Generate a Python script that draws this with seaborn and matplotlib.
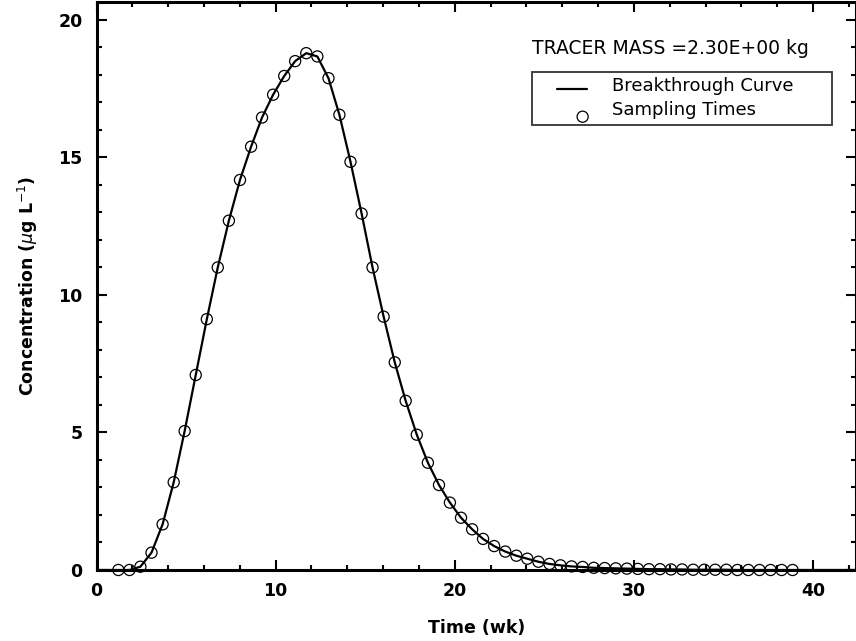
import numpy as np
import pandas as pd
import matplotlib
matplotlib.use("Agg")
import matplotlib.pyplot as plt
import seaborn as sns
from matplotlib.ticker import MultipleLocator
from matplotlib.legend_handler import HandlerLine2D, HandlerPathCollection

# ---- data ----
time_wk = [1.22, 1.84, 2.45, 3.07, 3.69, 4.31, 4.92, 5.54, 6.16, 6.77,
           7.39, 8.01, 8.63, 9.24, 9.86, 10.48, 11.09, 11.71, 12.33, 12.95,
           13.56, 14.18, 14.80, 15.41, 16.03, 16.65, 17.26, 17.88, 18.50, 19.12,
           19.73, 20.35, 20.97, 21.58, 22.20, 22.82, 23.44, 24.05, 24.67, 25.29,
           25.90, 26.52, 27.14, 27.76, 28.37, 28.99, 29.61, 30.22, 30.84, 31.46,
           32.07, 32.69, 33.31, 33.93, 34.54, 35.16, 35.78, 36.39, 37.01, 37.63,
           38.25, 38.86]
conc = [0.00, 0.00, 0.12, 0.63, 1.66, 3.19, 5.05, 7.09, 9.12, 11.00,
        12.70, 14.18, 15.39, 16.45, 17.28, 17.96, 18.50, 18.79, 18.67, 17.88,
        16.55, 14.84, 12.96, 11.00, 9.21, 7.55, 6.15, 4.92, 3.90, 3.09,
        2.45, 1.90, 1.48, 1.13, 0.87, 0.67, 0.52, 0.41, 0.30, 0.22,
        0.17, 0.13, 0.11, 0.08, 0.07, 0.06, 0.05, 0.04, 0.03, 0.03,
        0.02, 0.02, 0.01, 0.01, 0.01, 0.01, 0.00, 0.00, 0.00, 0.00,
        0.00, 0.00]
curve_start = [0.0]
curve_end = [42.4]
tracer_text = "TRACER MASS =2.30E+00 kg"
legend_labels = ["Breakthrough Curve", "Sampling Times"]

samples = pd.DataFrame({"time": time_wk, "conc": conc})
curve = pd.DataFrame({"time": curve_start + time_wk + curve_end,
                      "conc": [0.0] + conc + [0.0]})

sns.set_theme(style="ticks")
plt.rcParams["font.family"] = ["DejaVu Sans"]
plt.rcParams["mathtext.fontset"] = "dejavusans"
for k in ["text.color", "axes.labelcolor", "xtick.color", "ytick.color",
          "axes.edgecolor"]:
    plt.rcParams[k] = "black"

fig = plt.figure(figsize=(8.56, 6.41), dpi=100)
ax = fig.add_axes([96.5 / 856, 1 - 570 / 641, 1 - 96.5 / 856, (570 - 2) / 641])

sns.lineplot(data=curve, x="time", y="conc", ax=ax, color="black",
             linewidth=1.6, label=legend_labels[0], sort=False)
sns.scatterplot(data=samples, x="time", y="conc", ax=ax, marker="o",
                s=64, facecolor="none", edgecolor="black", linewidth=0.9,
                label=legend_labels[1], zorder=3, clip_on=False)

ax.set_xlim(0, 42.4)
ax.set_ylim(0, 20.65)
ax.xaxis.set_major_locator(MultipleLocator(10))
ax.xaxis.set_minor_locator(MultipleLocator(2))
ax.yaxis.set_major_locator(MultipleLocator(5))
ax.yaxis.set_minor_locator(MultipleLocator(1))
ax.tick_params(which="both", direction="in", top=True, right=True,
               width=1.5, color="black")
ax.tick_params(which="major", length=7)
ax.tick_params(which="minor", length=3.6)
ax.tick_params(axis="x", which="major", pad=9, labelsize=12.5)
ax.tick_params(axis="y", which="major", pad=10, labelsize=12.5)
for lab in ax.get_xticklabels() + ax.get_yticklabels():
    lab.set_fontweight("bold")
for sp in ax.spines.values():
    sp.set_linewidth(2.2)
    sp.set_color("black")

ax.set_xlabel("Time (wk)", fontsize=12.5, fontweight="bold", labelpad=13)
ax.set_ylabel(r"Concentration ($\mu$g L$^{-1}$)", fontsize=12.5,
              fontweight="bold", labelpad=13)

fig.text(532 / 856, 1 - 48 / 641, tracer_text, fontsize=13.5,
         va="center", ha="left")


class LineHandler(HandlerLine2D):
    def get_xdata(self, legend, xdescent, ydescent, width, height, fontsize):
        x0 = -xdescent + width * 0.40
        x1 = -xdescent + width
        return np.array([x0, x1]), np.array([(x0 + x1) / 2])

    def create_artists(self, legend, orig_handle, xdescent, ydescent,
                       width, height, fontsize, trans):
        arts = super().create_artists(legend, orig_handle, xdescent, ydescent,
                                      width, height, fontsize, trans)
        for a in arts:
            a.set_ydata(np.asarray(a.get_ydata()) - 2.9)
        return arts


class ScatterHandler(HandlerPathCollection):
    def get_xdata(self, legend, xdescent, ydescent, width, height, fontsize):
        xm = -xdescent + width * 0.91
        return np.array([xm]), np.array([xm])

    def get_ydata(self, legend, xdescent, ydescent, width, height, fontsize):
        return np.array([height * 0.5 - 5.5])


handles, labels = ax.get_legend_handles_labels()
leg = ax.legend(handles, labels, loc="upper left",
                bbox_to_anchor=(531.7 / 856, 1 - 72.3 / 641, 300 / 856, 0.001),
                bbox_transform=fig.transFigure, mode="expand",
                frameon=True, fancybox=False, borderaxespad=0,
                fontsize=13, handlelength=2.77, handletextpad=1.37,
                borderpad=0.3, labelspacing=0.35, scatterpoints=1,
                handler_map={handles[0]: LineHandler(),
                             handles[1]: ScatterHandler()})
leg.get_frame().set_edgecolor("black")
leg.get_frame().set_linewidth(1.3)

fig.savefig("out.png", dpi=100)
